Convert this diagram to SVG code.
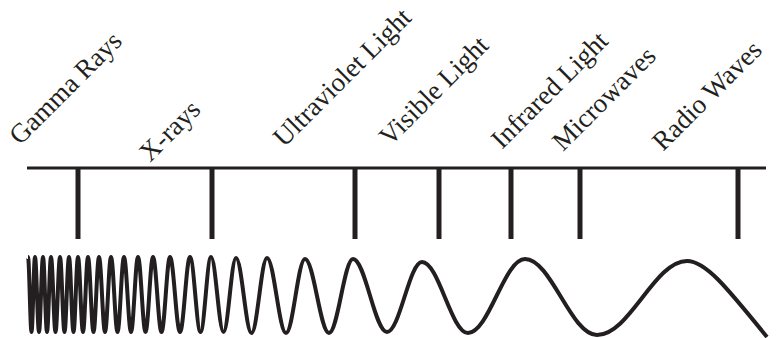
<svg xmlns="http://www.w3.org/2000/svg" width="781" height="338" viewBox="0 0 781 338">
<style>
.lbl{font-family:"Liberation Serif","Times New Roman",serif;font-size:27px;fill:#231f20}
.axis{stroke:#231f20;stroke-width:3;fill:none}
.tick{stroke:#231f20;stroke-width:5;fill:none}
.wave{stroke:#231f20;stroke-width:4;fill:none;stroke-linejoin:round;stroke-linecap:butt}
</style>
<rect width="781" height="338" fill="#ffffff"/>
<g id="connectors">
<line class="axis" x1="27" y1="168" x2="766" y2="168"/>
</g>
<g id="gamma"><line class="tick" x1="78" y1="168" x2="78" y2="239"/><text class="lbl" transform="translate(20,146) rotate(-45)">Gamma Rays</text></g>
<g id="xrays"><line class="tick" x1="212" y1="168" x2="212" y2="239"/><text class="lbl" transform="translate(150,163) rotate(-45)">X-rays</text></g>
<g id="uv"><line class="tick" x1="355" y1="168" x2="355" y2="239"/><text class="lbl" transform="translate(284,148) rotate(-45)">Ultraviolet Light</text></g>
<g id="visible"><line class="tick" x1="439" y1="168" x2="439" y2="239"/><text class="lbl" transform="translate(390,147) rotate(-45)">Visible Light</text></g>
<g id="infrared"><line class="tick" x1="511" y1="168" x2="511" y2="239"/><text class="lbl" transform="translate(502,150) rotate(-45)">Infrared Light</text></g>
<g id="microwaves"><line class="tick" x1="580" y1="168" x2="580" y2="239"/><text class="lbl" transform="translate(563,152) rotate(-45)">Microwaves</text></g>
<g id="radio"><line class="tick" x1="738" y1="168" x2="738" y2="239"/><text class="lbl" transform="translate(663,152) rotate(-45)">Radio Waves</text></g>
<g id="wave">
<path class="wave" d="M28,257 C29.27,257 30.23,332 31.5,332 C32.77,332 33.73,257 35,257 C36.46,257 37.54,332 39,332 C40.46,332 41.54,257 43,257 C44.46,257 45.54,332 47,332 C48.46,332 49.54,257 51,257 C52.64,257 53.86,332 55.5,332 C57.14,332 58.36,257 60,257 C61.64,257 62.86,332 64.5,332 C66.14,332 67.36,257 69,257 C70.64,257 71.86,332 73.5,332 C75.14,332 76.36,257 78,257 C79.82,257 81.18,332 83,332 C84.82,332 86.18,257 88,257 C90,257 91.5,332 93.5,332 C95.5,332 97,257 99,257 C101.18,257 102.82,332 105,332 C107.18,332 108.82,257 111,257 C113.37,257 115.13,332 117.5,332 C119.87,332 121.63,257 124,257 C126.55,257 128.45,332 131,332 C133.55,332 135.45,257 138,257 C140.73,257 142.77,332 145.5,332 C148.23,332 150.27,257 153,257 C156.09,257 158.41,332 161.5,332 C164.59,332 166.91,257 170,257 C173.64,257 176.36,332 180,332 C183.64,332 186.36,257 190,257 C193.82,257 196.68,332 200.5,332 C204.32,332 207.18,257 211,257 C215.55,257 218.95,332 223.5,332 C228.05,332 231.45,258 236,258 C241.64,258 245.86,333 251.5,333 C257.14,333 261.36,258 267,258 C273.92,258 279.08,333 286,333 C292.92,333 298.08,259 305,259 C313.74,259 320.26,333 329,333 C337.74,333 344.26,259 353,259 C365.38,259 374.62,332 387,332 C399.74,332 409.26,262 422,262 C438.74,262 451.26,333 468,333 C488.75,333 504.25,259 525,259 C551.2,259 570.8,335 597,335 C629.8,335 654.2,261 687,261 C705,261 725,285 767,337"/>
</g>
</svg>
